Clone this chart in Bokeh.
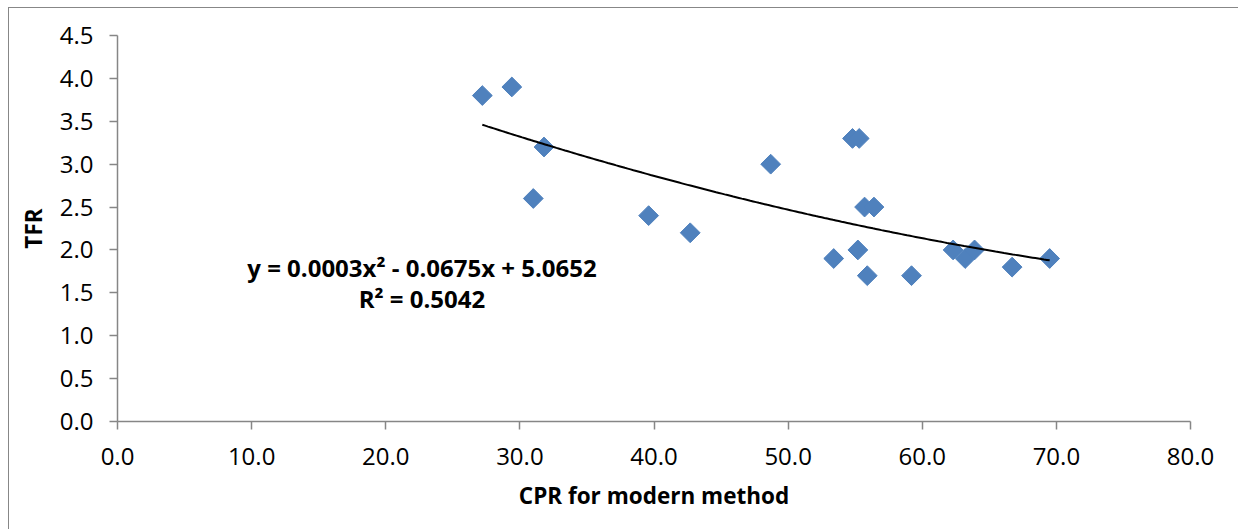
import numpy as np
from bokeh.plotting import figure
from bokeh.models import Range1d, FixedTicker, NumeralTickFormatter, Label
from bokeh.embed import file_html
from bokeh.resources import INLINE

# Data
cpr = [27.2, 29.4, 31.8, 31.0, 39.6, 42.7, 48.7, 54.8, 55.3, 55.7,
       56.4, 55.2, 53.4, 55.9, 59.2, 62.3, 63.2, 63.9, 66.7, 69.5]
tfr = [3.8, 3.9, 3.2, 2.6, 2.4, 2.2, 3.0, 3.3, 3.3, 2.5,
       2.5, 2.0, 1.9, 1.7, 1.7, 2.0, 1.9, 2.0, 1.8, 1.9]
x_ticks = [0, 10, 20, 30, 40, 50, 60, 70, 80]
y_ticks = [0, 0.5, 1.0, 1.5, 2.0, 2.5, 3.0, 3.5, 4.0, 4.5]
eq_text = "y = 0.0003x\u00b2 - 0.0675x + 5.0652"
r2_text = "R\u00b2 = 0.5042"
x_title = "CPR for modern method"
y_title = "TFR"

FONT = "Open Sans"
AX = "#868686"

p = figure(width=1230, height=522, output_backend="svg", toolbar_location=None,
           x_range=Range1d(0, 80), y_range=Range1d(0, 4.5),
           min_border_left=108, min_border_right=49, min_border_top=27,
           min_border_bottom=109,
           styles={"margin-left": "8px", "margin-top": "7px",
                   "border-left": "1px solid #878787",
                   "border-top": "1px solid #878787"})
p.outline_line_color = None
p.xgrid.visible = False
p.ygrid.visible = False

for ax in (p.xaxis[0], p.yaxis[0]):
    ax.axis_line_color = AX
    ax.axis_line_width = 1.5
    ax.major_tick_line_color = AX
    ax.major_tick_line_width = 1.5
    ax.major_tick_out = 8
    ax.major_tick_in = 0
    ax.minor_tick_line_color = None
    ax.major_label_text_font = FONT
    ax.major_label_text_font_size = "24px"
    ax.major_label_text_color = "black"
    ax.axis_label_text_font = FONT
    ax.axis_label_text_font_size = "22.5px"
    ax.axis_label_text_font_style = "bold"
    ax.axis_label_text_color = "black"
    ax.formatter = NumeralTickFormatter(format="0.0")

p.xaxis[0].ticker = FixedTicker(ticks=x_ticks)
p.yaxis[0].ticker = FixedTicker(ticks=y_ticks)
p.xaxis[0].axis_label = x_title
p.yaxis[0].axis_label = y_title
p.xaxis[0].major_label_standoff = 18
p.yaxis[0].major_label_standoff = 16
p.xaxis[0].axis_label_standoff = 12
p.yaxis[0].axis_label_standoff = 8

# polynomial trendline (order 2)
coef = np.polyfit(cpr, tfr, 2)
xs = np.linspace(min(cpr), max(cpr), 200)
ys = np.polyval(coef, xs)

p.scatter(cpr, tfr, marker="square", size=14, angle=np.pi / 4,
          fill_color="#4F81BD", line_color="#4F81BD")
p.line(xs, ys, line_color="black", line_width=2)

p.add_layout(Label(x=22.7, y=1.79, text=eq_text, text_align="center",
                   text_baseline="middle", text_font=FONT, text_font_size="24px",
                   text_font_style="bold", text_color="black"))
p.add_layout(Label(x=22.7, y=1.43, text=r2_text, text_align="center",
                   text_baseline="middle", text_font=FONT, text_font_size="24px",
                   text_font_style="bold", text_color="black"))

open("out.html", "w").write(file_html(p, INLINE))
